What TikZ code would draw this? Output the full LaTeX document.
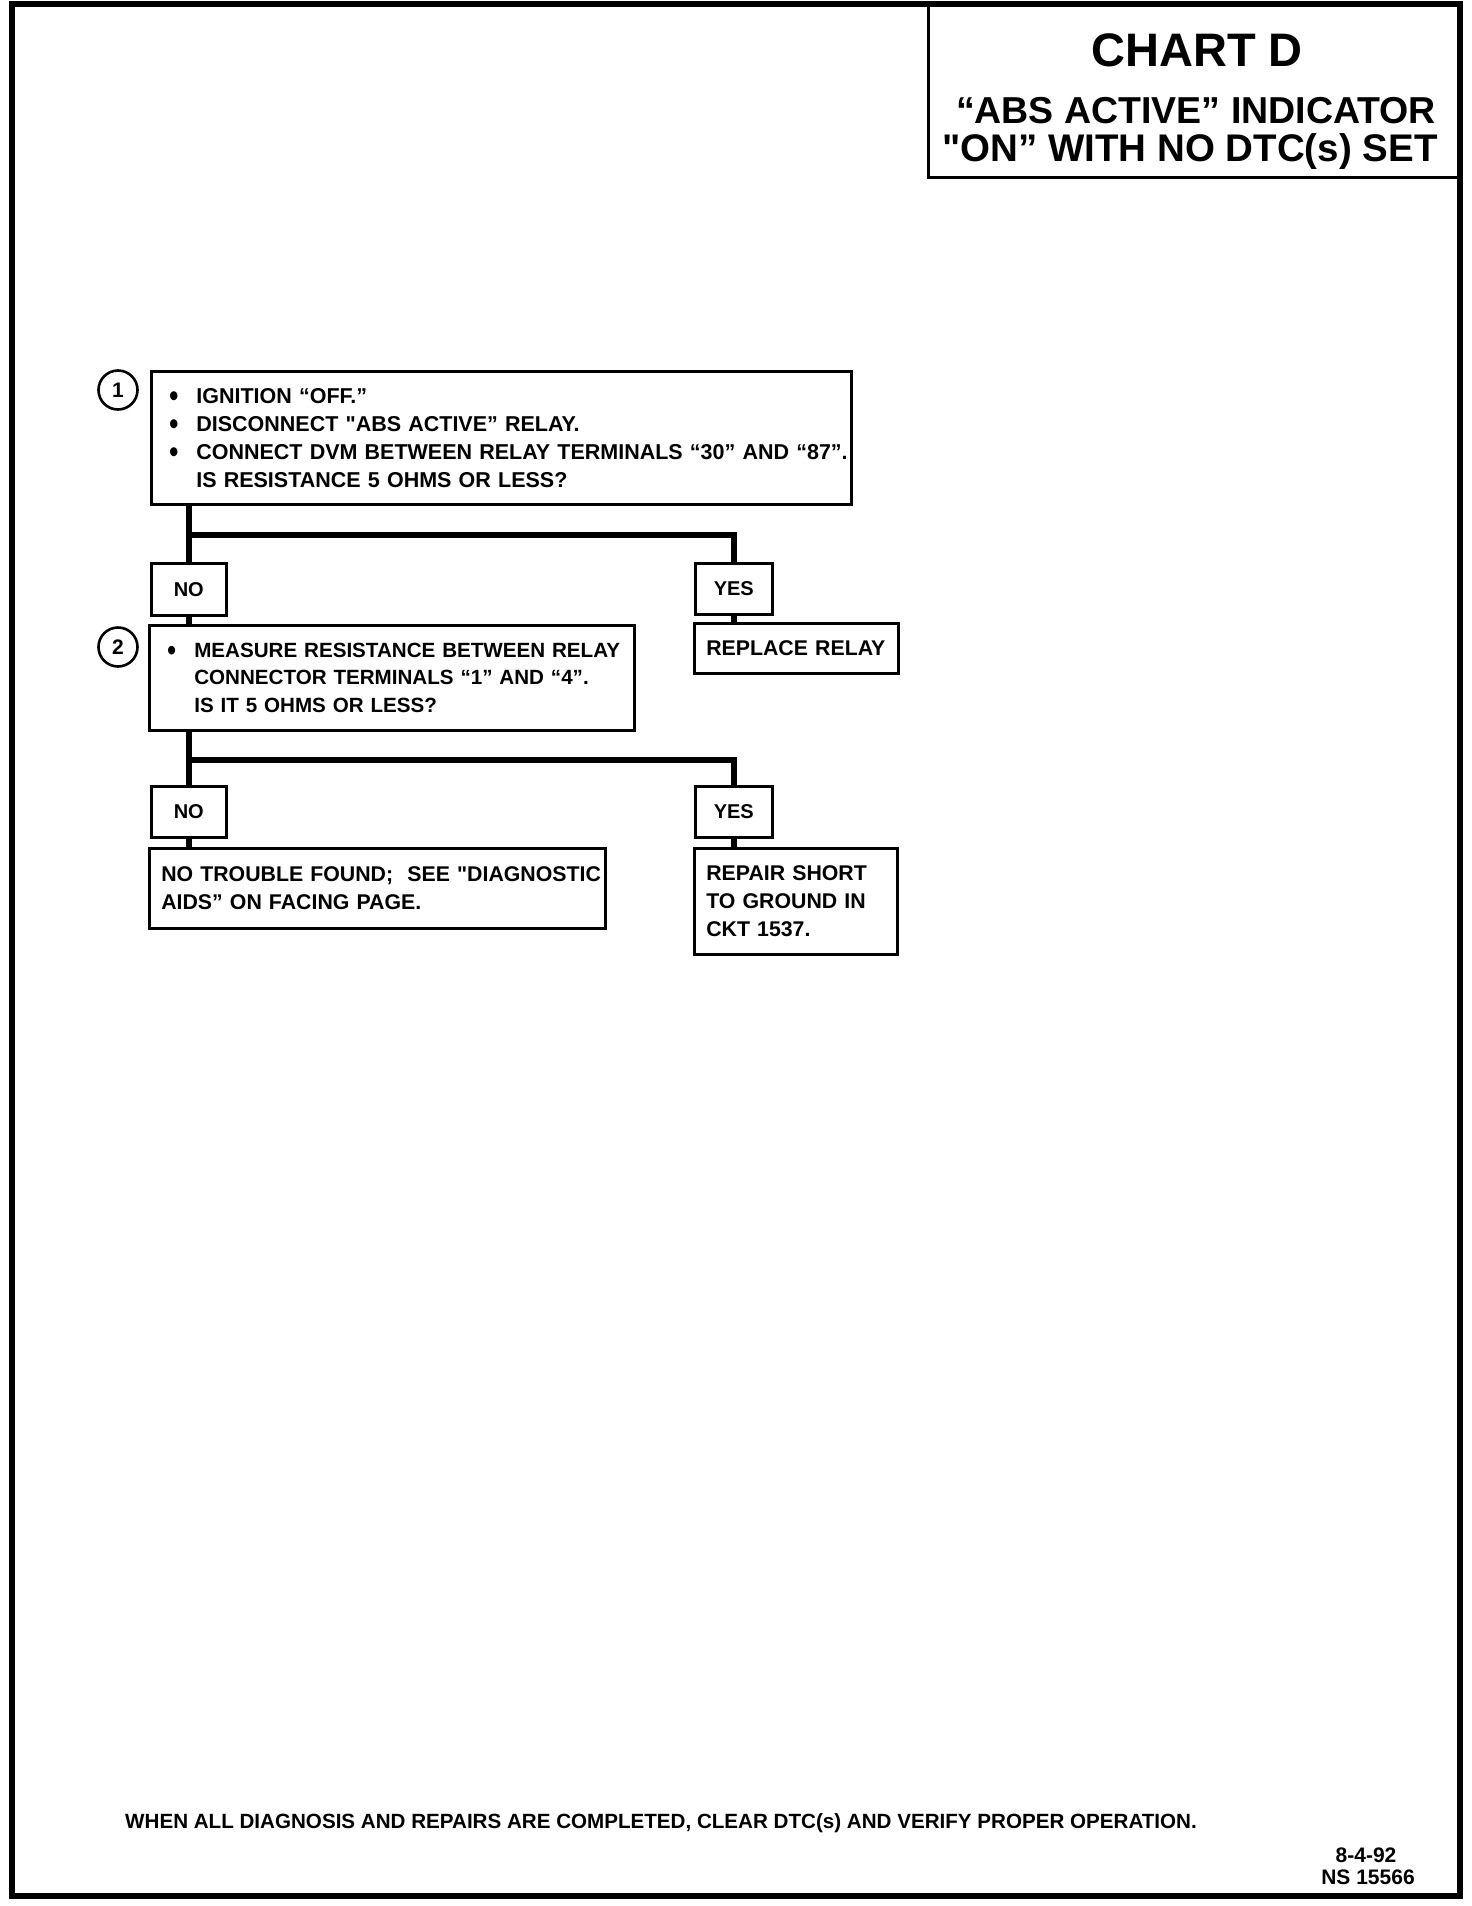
\documentclass[tikz,border=0pt]{standalone}
\usepackage{fontspec}
\setmainfont{Liberation Sans}[Ligatures=TeXOff]
\newcommand\blt{\makebox[27pt][l]{\smash{\raisebox{-3.4pt}{\scalebox{1.2}[1.45]{\textbullet}}}}}
\newcommand\bl[1]{\blt\mbox{#1}}
\newcommand\il[1]{\hspace*{27pt}\mbox{#1}}
\begin{document}
\begin{tikzpicture}[x=1pt,y=-1pt,
  every node/.style={font=\bfseries},
  box/.style={draw, line width=2.6pt, anchor=north west, align=left, inner ysep=0pt,
              font=\bfseries\fontsize{21.3}{28}\selectfont},
  ans/.style={draw, line width=2.6pt, anchor=north west, inner sep=0pt,
              font=\bfseries\fontsize{20}{24}\selectfont},
  conn/.style={line width=6pt},
  num/.style={draw, circle, line width=2.6pt, minimum size=39pt, inner sep=0pt,
              font=\bfseries\fontsize{21}{24}\selectfont},
  lbl/.style={inner sep=0pt}]
\useasboundingbox (0,0) rectangle (1472,1906);

% page frame and title box
\draw[line width=6pt] (12,4) rectangle (1460,1896);
\node[draw, line width=3pt, anchor=north west, minimum width=533pt, minimum height=172pt, inner sep=0pt] (tbox) at (927,4) {};
\node[lbl, anchor=base, font=\bfseries\fontsize{47}{47}\selectfont] (t1) at (1197,66) {CHART D};
\node[lbl, anchor=base, font=\bfseries\fontsize{37.5}{38}\selectfont] (t2) at (1196,123) {“ABS ACTIVE” INDICATOR};
\node[lbl, anchor=base, font=\bfseries\fontsize{38.5}{38}\selectfont] (t3) at (1190,161) {"ON” WITH NO DTC(s) SET};

% step 1
\node[num] (c1) at (118,390) {1};
\node[box, inner xsep=18pt, text width=664pt, minimum height=133pt,
      font=\bfseries\fontsize{21.5}{28}\selectfont] (b1) at (150,370)
  {\bl{IGNITION “OFF.”}\\
   \bl{DISCONNECT "ABS ACTIVE” RELAY.}\\
   \bl{CONNECT DVM BETWEEN RELAY TERMINALS “30” AND “87”.}\\
   \il{IS RESISTANCE 5 OHMS OR LESS?}};
\node[ans, minimum width=75pt, minimum height=52pt] (no1) at (150,562) {NO};
\node[ans, minimum width=77pt, minimum height=51pt] (yes1) at (694,562) {YES};

% step 2
\node[num] (c2) at (118,647) {2};
\node[box, inner xsep=18pt, text width=449pt, minimum height=105pt,
      font=\bfseries\fontsize{20.6}{27.5}\selectfont] (b2) at (148,624)
  {\bl{MEASURE RESISTANCE BETWEEN RELAY}\\
   \il{CONNECTOR TERMINALS “1” AND “4”.}\\
   \il{IS IT 5 OHMS OR LESS?}};
\node[box, inner xsep=12pt, text width=180pt, minimum height=50pt] (rr) at (693,622)
  {\mbox{REPLACE RELAY}};
\node[ans, minimum width=75pt, minimum height=51pt] (no2) at (150,785) {NO};
\node[ans, minimum width=77pt, minimum height=51pt] (yes2) at (694,785) {YES};

% results
\node[box, inner xsep=12pt, text width=432pt, minimum height=80pt] (ntf) at (148,847)
  {\mbox{NO TROUBLE FOUND;\ \ SEE "DIAGNOSTIC}\\ \mbox{AIDS” ON FACING PAGE.}};
\node[box, inner xsep=12pt, text width=179pt, minimum height=106pt] (rep) at (693,847)
  {\mbox{REPAIR SHORT}\\ \mbox{TO GROUND IN}\\ \mbox{CKT 1537.}};

% connectors
\coordinate (j1) at (no1.north |- 0,535);
\coordinate (j2) at (no2.north |- 0,760);
\draw[conn] (no1.north |- b1.south) -- (no1.north);
\draw[conn] (j1) -| (yes1.north);
\draw[conn] (no1.south) -- (no1.south |- b2.north);
\draw[conn] (yes1.south) -- (yes1.south |- rr.north);
\draw[conn] (no2.north |- b2.south) -- (no2.north);
\draw[conn] (j2) -| (yes2.north);
\draw[conn] (no2.south) -- (no2.south |- ntf.north);
\draw[conn] (yes2.south) -- (yes2.south |- rep.north);

% footer
\node[lbl, anchor=base west, font=\bfseries\fontsize{20.6}{24}\selectfont] (foot) at (125,1828)
  {WHEN ALL DIAGNOSIS AND REPAIRS ARE COMPLETED, CLEAR DTC(s) AND VERIFY PROPER OPERATION.};
\node[lbl, anchor=base, font=\bfseries\fontsize{21}{22}\selectfont] (d1) at (1366,1862) {8-4-92};
\node[lbl, anchor=base, font=\bfseries\fontsize{21}{22}\selectfont] (d2) at (1368,1884) {NS 15566};
\end{tikzpicture}
\end{document}
